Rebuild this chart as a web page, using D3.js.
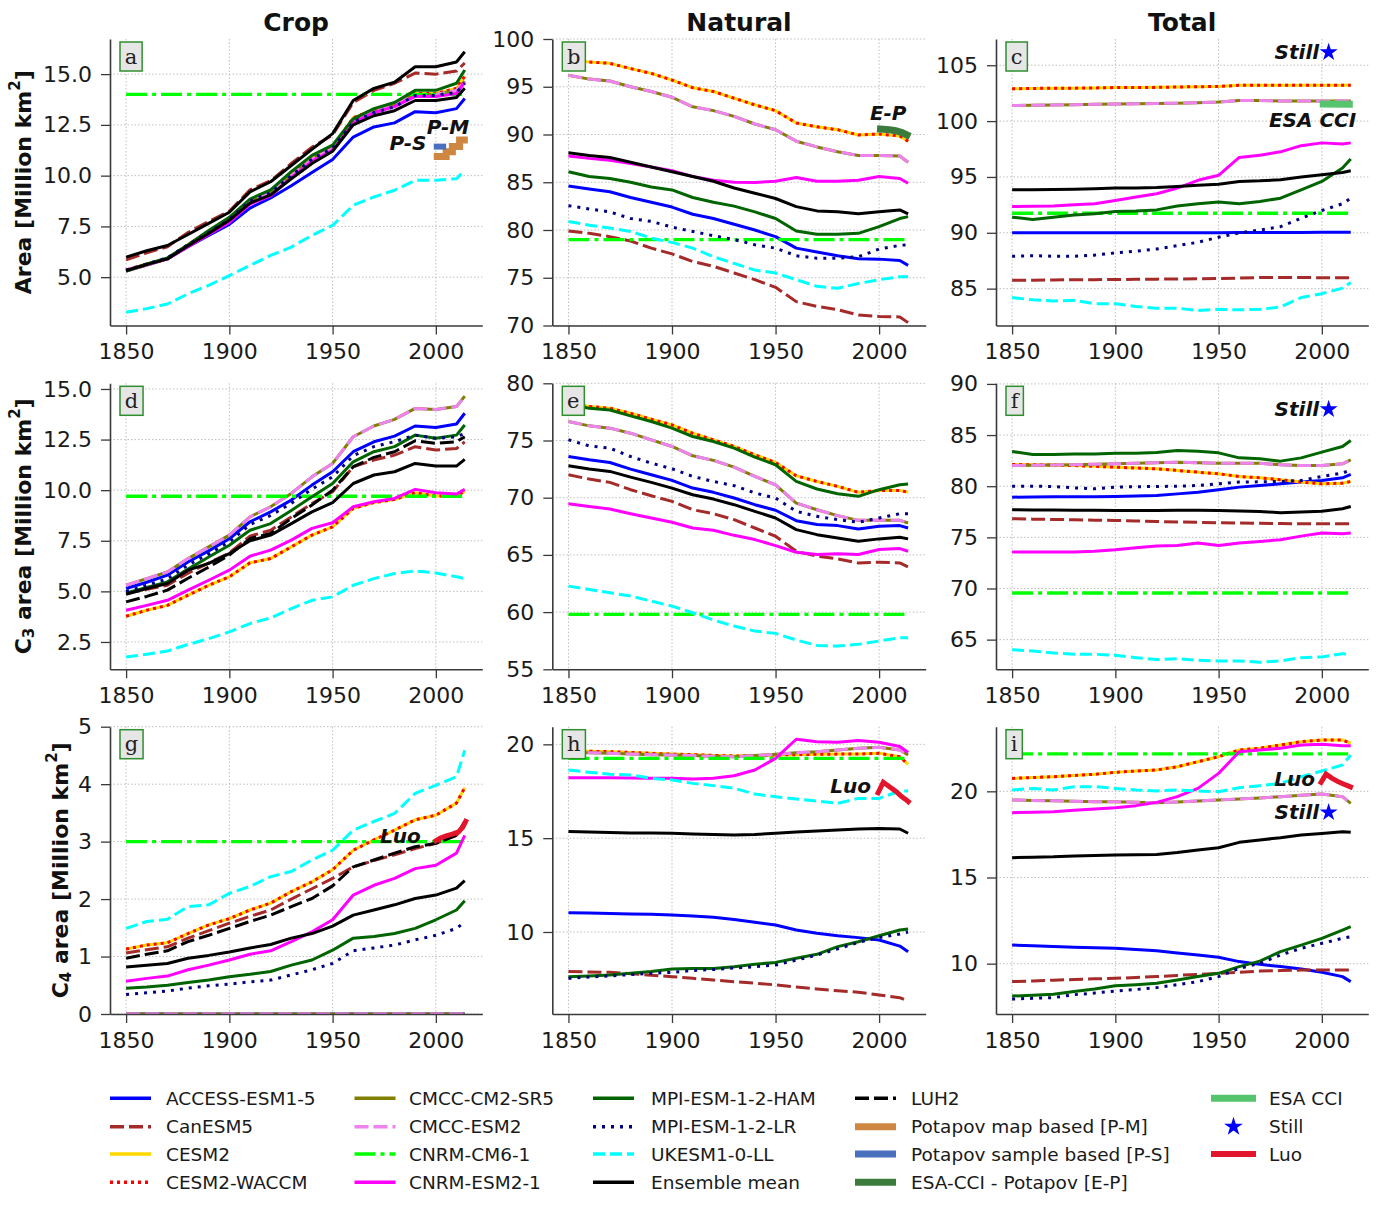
<!DOCTYPE html>
<html><head><meta charset="utf-8">
<script src="https://cdn.jsdelivr.net/npm/d3@7/dist/d3.min.js"></script>
<style>body{margin:0;background:#fff}svg{display:block}</style>
</head><body>
<svg id="chart" width="1379" height="1211" font-family="DejaVu Sans, sans-serif"></svg>
<script>
// ---------------- DATA ----------------
const years = [1850,1860,1870,1880,1890,1900,1910,1920,1930,1940,1950,1960,1970,1980,1990,2000,2010,2014];
const xTicks = [1850,1900,1950,2000];
const ticks_a = [5,7.5,10,12.5,15];
const ticks_b = [70,75,80,85,90,95,100];
const ticks_c = [85,90,95,100,105];
const ticks_d = [2.5,5,7.5,10,12.5,15];
const ticks_e = [55,60,65,70,75,80];
const ticks_f = [65,70,75,80,85,90];
const ticks_g = [0,1,2,3,4,5];
const ticks_h = [10,15,20];
const ticks_i = [10,15,20];
const columnTitles = ['Crop','Natural','Total'];

// (a) Crop area
const a_access = [5.3,5.6,5.9,6.5,7.05,7.6,8.4,8.9,9.5,10.15,10.8,11.9,12.4,12.6,13.15,13.1,13.3,13.8];
const a_can    = [5.85,6.2,6.5,7.2,7.75,8.25,9.3,9.75,10.6,11.4,12.0,13.6,14.2,14.55,15.05,15.0,15.15,15.55];
const a_cesm   = [5.35,5.65,5.9,6.6,7.25,7.9,8.8,9.2,10.05,10.85,11.4,12.85,13.25,13.55,14.05,14.05,14.3,14.9];
const a_cmcc   = [5.3,5.6,5.9,6.55,7.2,7.85,8.75,9.15,10.0,10.8,11.35,12.7,13.15,13.45,14.0,14.0,14.2,14.65];
const a_cm6    = [14,14,14,14,14,14,14,14,14,14,14,14,14,14,14,14,14,14];
const a_cnrm   = [5.35,5.62,5.9,6.5,7.1,7.7,8.6,9.0,9.9,10.7,11.25,12.6,13.1,13.4,13.9,13.9,14.05,14.6];
const a_ham    = [5.3,5.65,5.95,6.6,7.3,7.95,8.85,9.3,10.2,11.0,11.5,12.8,13.3,13.6,14.2,14.2,14.55,15.2];
const a_lr     = [5.35,5.65,5.95,6.6,7.2,7.85,8.75,9.15,10.0,10.8,11.35,12.65,13.1,13.4,13.95,13.95,14.1,14.55];
const a_uk     = [3.27,3.45,3.68,4.18,4.6,5.08,5.58,6.07,6.48,7.06,7.55,8.54,8.95,9.28,9.77,9.77,9.85,10.26];
const a_mean   = [5.33,5.62,5.9,6.55,7.15,7.8,8.65,9.05,9.85,10.6,11.2,12.5,12.95,13.2,13.7,13.7,13.85,14.3];
const a_luh    = [5.99,6.3,6.56,7.1,7.65,8.2,9.2,9.7,10.5,11.3,12.07,13.7,14.3,14.6,15.36,15.36,15.6,16.1];

// (b) Natural area
const b_access = [84.6,84.3,84.0,83.4,82.9,82.4,81.65,81.2,80.6,80.0,79.3,78.1,77.7,77.3,76.98,76.95,76.8,76.3];
const b_can    = [79.9,79.65,79.3,78.85,78.1,77.5,76.7,76.2,75.5,74.8,74.0,72.5,72.0,71.65,71.1,70.95,70.9,70.3];
const b_cesm   = [97.8,97.6,97.45,96.9,96.4,95.7,94.9,94.5,93.8,93.1,92.5,91.2,90.8,90.5,89.95,90.05,89.85,89.3];
const b_cmcc   = [96.2,95.8,95.6,95.0,94.5,93.9,92.9,92.5,91.9,91.1,90.5,89.3,88.7,88.2,87.8,87.8,87.75,87.1];
const b_cm6    = [79,79,79,79,79,79,79,79,79,79,79,79,79,79,79,79,79,79];
const b_cnrm   = [87.75,87.5,87.3,86.95,86.6,86.2,85.6,85.2,85.0,84.97,85.1,85.5,85.1,85.1,85.2,85.6,85.4,84.9];
const b_ham    = [86.1,85.6,85.4,85.0,84.5,84.2,83.4,82.9,82.5,81.9,81.2,79.9,79.55,79.55,79.65,80.35,81.2,81.4];
const b_lr     = [82.55,82.2,81.9,81.2,80.9,80.3,79.85,79.4,79.0,78.45,78.1,77.3,77.05,77.05,77.2,78.0,78.4,78.45];
const b_uk     = [80.9,80.5,80.2,79.85,79.15,78.7,78.1,77.2,76.5,75.8,75.5,74.8,74.1,73.9,74.4,74.8,75.1,75.1];
const b_mean   = [88.1,87.8,87.6,87.1,86.6,86.1,85.6,85.1,84.4,83.85,83.3,82.45,82.0,81.9,81.7,81.9,82.1,81.7];

// (c) Total area
const c_access = [90.0,90.0,90.0,90.0,90.0,90.0,90.0,90.0,90.0,90.0,90.0,90.02,90.02,90.03,90.03,90.05,90.05,90.05];
const c_can    = [85.75,85.75,85.78,85.8,85.8,85.82,85.83,85.85,85.87,85.88,85.9,85.95,86.0,86.0,86.0,85.98,85.98,85.98];
const c_cesm   = [102.9,102.92,102.95,102.95,102.97,103.0,103.0,103.02,103.05,103.08,103.1,103.2,103.2,103.2,103.2,103.2,103.2,103.2];
const c_cmcc   = [101.4,101.42,101.45,101.47,101.5,101.52,101.55,101.58,101.6,101.65,101.7,101.85,101.85,101.8,101.8,101.8,101.8,101.8];
const c_cm6    = [91.75,91.75,91.75,91.75,91.75,91.75,91.75,91.75,91.75,91.75,91.75,91.75,91.75,91.75,91.75,91.75,91.75,91.75];
const c_cnrm   = [92.35,92.38,92.4,92.5,92.6,92.9,93.2,93.5,94.0,94.7,95.15,96.75,96.95,97.25,97.8,98.05,97.95,98.05];
const c_ham    = [91.4,91.2,91.4,91.6,91.7,91.9,91.95,92.05,92.4,92.6,92.75,92.6,92.8,93.1,93.85,94.6,95.8,96.6];
const c_lr     = [87.9,87.95,87.9,87.9,88.0,88.2,88.35,88.55,88.85,89.15,89.6,90.0,90.25,90.55,91.3,92.0,92.6,93.1];
const c_uk     = [84.2,84.0,83.9,83.95,83.65,83.65,83.4,83.25,83.25,83.05,83.15,83.1,83.15,83.35,84.2,84.55,85.05,85.55];
const c_mean   = [93.85,93.85,93.87,93.9,93.95,94.0,94.0,94.05,94.15,94.25,94.35,94.6,94.65,94.75,95.0,95.2,95.4,95.55];

// (d) C3 crop
const d_access = [5.14,5.45,5.8,6.45,7.0,7.6,8.44,8.93,9.51,10.25,10.91,11.9,12.39,12.67,13.17,13.1,13.27,13.8];
const d_can    = [4.9,5.1,5.3,5.9,6.4,6.9,7.73,8.02,8.68,9.34,9.92,11.16,11.49,11.73,12.15,11.98,12.06,12.39];
const d_cesm   = [3.77,4.07,4.31,4.81,5.3,5.72,6.41,6.62,7.2,7.78,8.19,9.1,9.39,9.54,9.87,9.71,9.71,9.95];
const d_cmcc   = [5.3,5.63,5.96,6.62,7.2,7.78,8.68,9.18,9.84,10.66,11.32,12.64,13.17,13.5,14.04,13.99,14.13,14.65];
const d_cm6    = [9.7,9.7,9.7,9.7,9.7,9.7,9.7,9.7,9.7,9.7,9.7,9.7,9.7,9.7,9.7,9.7,9.7,9.7];
const d_cnrm   = [4.07,4.31,4.56,5.06,5.55,6.05,6.74,7.04,7.53,8.11,8.39,9.18,9.43,9.59,10.04,9.87,9.81,10.04];
const d_ham    = [4.92,5.2,5.47,6.1,6.7,7.28,8.02,8.35,9.0,9.67,10.33,11.4,11.9,12.15,12.72,12.56,12.72,13.22];
const d_lr     = [5.0,5.3,5.62,6.3,6.85,7.45,8.3,8.75,9.35,10.05,10.66,11.7,12.15,12.4,12.72,12.56,12.64,12.8];
const d_uk     = [1.76,1.89,2.05,2.38,2.66,3.0,3.41,3.69,4.15,4.56,4.73,5.3,5.63,5.88,6.01,5.91,5.72,5.63];
const d_mean   = [4.86,5.14,5.39,6.05,6.38,6.87,7.5,7.78,8.35,8.93,9.38,10.33,10.75,10.91,11.32,11.19,11.19,11.52];
const d_luh    = [4.48,4.75,5.06,5.65,6.2,6.79,7.61,7.86,8.6,9.27,10.0,11.16,11.62,11.9,12.44,12.31,12.39,12.64];

// (e) C3 natural
const e_access = [73.6,73.31,73.08,72.5,72.0,71.51,70.84,70.47,69.97,69.39,68.9,67.99,67.65,67.56,67.27,67.5,67.56,67.35];
const e_can    = [72.0,71.63,71.34,70.7,70.17,69.68,68.95,68.6,68.08,67.35,66.63,65.32,64.88,64.65,64.3,64.36,64.3,63.95];
const e_cesm   = [78.26,77.97,77.82,77.38,76.86,76.37,75.64,75.06,74.48,73.75,73.08,71.92,71.42,70.99,70.47,70.64,70.64,70.47];
const e_cmcc   = [76.66,76.28,76.08,75.64,75.06,74.48,73.66,73.26,72.67,71.86,71.13,69.53,68.95,68.43,68.02,68.02,68.02,67.79];
const e_cm6    = [59.8,59.8,59.8,59.8,59.8,59.8,59.8,59.8,59.8,59.8,59.8,59.8,59.8,59.8,59.8,59.8,59.8,59.8];
const e_cnrm   = [69.48,69.24,69.01,68.6,68.23,67.85,67.35,67.15,66.71,66.34,65.81,65.23,65.03,65.09,65.03,65.47,65.55,65.32];
const e_ham    = [78.17,77.82,77.67,77.15,76.66,76.08,75.35,74.91,74.33,73.55,72.88,71.42,70.76,70.35,70.12,70.7,71.13,71.19];
const e_lr     = [75.06,74.53,74.33,73.6,73.02,72.53,71.86,71.42,71.05,70.41,69.97,68.81,68.37,68.08,67.85,68.23,68.6,68.6];
const e_uk     = [62.27,61.98,61.69,61.4,60.96,60.52,59.94,59.3,58.78,58.34,58.14,57.56,57.09,57.03,57.18,57.47,57.76,57.76];
const e_mean   = [72.79,72.5,72.3,71.8,71.34,70.84,70.26,69.88,69.39,68.81,68.23,67.21,66.77,66.48,66.19,66.4,66.54,66.4];

// (f) C3 total
const f_access = [78.93,78.94,78.96,78.97,78.98,79.0,79.05,79.1,79.25,79.42,79.65,79.91,80.07,80.23,80.4,80.56,80.82,81.15];
const f_can    = [76.82,76.78,76.75,76.72,76.68,76.65,76.6,76.55,76.5,76.47,76.43,76.4,76.37,76.35,76.33,76.33,76.33,76.33];
const f_cesm   = [82.12,82.1,82.07,82.02,81.95,81.86,81.78,81.7,81.54,81.37,81.21,80.95,80.82,80.63,80.4,80.23,80.3,80.46];
const f_cmcc   = [82.02,82.05,82.08,82.1,82.15,82.19,82.25,82.3,82.35,82.3,82.25,82.25,82.25,82.09,82.02,82.02,82.19,82.58];
const f_cm6    = [69.56,69.56,69.56,69.56,69.56,69.56,69.56,69.56,69.56,69.56,69.56,69.56,69.56,69.56,69.56,69.56,69.56,69.56];
const f_cnrm   = [73.56,73.56,73.56,73.56,73.65,73.79,73.98,74.15,74.21,74.44,74.21,74.44,74.6,74.77,75.12,75.42,75.35,75.42];
const f_ham    = [83.39,83.1,83.1,83.16,83.16,83.23,83.23,83.29,83.49,83.42,83.26,82.77,82.68,82.45,82.77,83.33,83.88,84.47];
const f_lr     = [80.0,80.0,79.97,79.84,79.75,79.91,79.95,79.97,80.0,80.07,80.23,80.4,80.43,80.46,80.56,80.95,81.28,81.6];
const f_uk     = [64.02,63.89,63.7,63.57,63.57,63.47,63.24,63.05,63.14,62.98,62.92,62.92,62.79,62.92,63.24,63.31,63.63,63.47];
const f_mean   = [77.7,77.68,77.67,77.65,77.64,77.63,77.63,77.63,77.65,77.64,77.63,77.58,77.53,77.4,77.47,77.56,77.79,78.02];

// (g) C4 crop
const g_access = [0,0,0,0,0,0,0,0,0,0,0,0,0,0,0,0,0,0];
const g_can    = [1.06,1.12,1.17,1.32,1.45,1.58,1.7,1.81,2.0,2.18,2.36,2.56,2.67,2.77,2.88,2.97,3.11,3.29];
const g_cesm   = [1.13,1.2,1.24,1.4,1.55,1.66,1.81,1.93,2.13,2.3,2.51,2.85,3.03,3.2,3.38,3.46,3.67,3.94];
const g_cmcc   = [0,0,0,0,0,0,0,0,0,0,0,0,0,0,0,0,0,0];
const g_cm6    = [3,3,3,3,3,3,3,3,3,3,3,3,3,3,3,3,3,3];
const g_cnrm   = [0.57,0.62,0.66,0.77,0.85,0.94,1.04,1.1,1.26,1.43,1.64,2.07,2.24,2.36,2.53,2.59,2.8,3.11];
const g_ham    = [0.45,0.47,0.5,0.55,0.59,0.65,0.69,0.74,0.85,0.94,1.11,1.32,1.35,1.4,1.49,1.64,1.81,1.97];
const g_lr     = [0.34,0.37,0.4,0.45,0.49,0.52,0.56,0.59,0.68,0.77,0.88,1.1,1.15,1.2,1.29,1.37,1.49,1.6];
const g_uk     = [1.49,1.61,1.65,1.87,1.9,2.1,2.22,2.39,2.48,2.68,2.85,3.2,3.35,3.49,3.84,3.98,4.13,4.59];
const g_mean   = [0.82,0.85,0.88,0.97,1.02,1.08,1.15,1.21,1.32,1.4,1.53,1.72,1.81,1.9,2.01,2.07,2.19,2.32];
const g_luh    = [0.97,1.04,1.1,1.26,1.37,1.49,1.61,1.72,1.87,2.01,2.23,2.56,2.68,2.8,2.91,2.97,3.11,3.35];

// (h) C4 natural
const h_access = [11.03,11.01,10.98,10.96,10.94,10.91,10.85,10.78,10.66,10.52,10.37,10.11,9.93,9.8,9.7,9.57,9.25,8.95];
const h_can    = [7.89,7.87,7.85,7.78,7.7,7.62,7.53,7.44,7.35,7.27,7.18,7.07,6.96,6.87,6.79,6.64,6.5,6.32];
const h_cesm   = [19.66,19.63,19.61,19.57,19.52,19.48,19.45,19.41,19.38,19.4,19.43,19.45,19.47,19.48,19.48,19.52,19.34,18.93];
const h_cmcc   = [19.57,19.55,19.52,19.48,19.45,19.43,19.4,19.36,19.34,19.4,19.47,19.55,19.61,19.7,19.79,19.84,19.7,19.43];
const h_cm6    = [19.25,19.25,19.25,19.25,19.25,19.25,19.25,19.25,19.25,19.25,19.25,19.25,19.25,19.25,19.25,19.25,19.25,19.25];
const h_cnrm   = [18.22,18.22,18.22,18.2,18.19,18.19,18.15,18.19,18.33,18.63,19.25,20.27,20.14,20.11,20.2,20.11,19.88,19.57];
const h_ham    = [7.62,7.66,7.71,7.8,7.89,8.03,8.05,8.06,8.15,8.28,8.38,8.6,8.81,9.22,9.48,9.8,10.11,10.16];
const h_lr     = [7.53,7.6,7.66,7.73,7.8,7.85,7.95,8.0,8.08,8.15,8.24,8.5,8.77,9.1,9.45,9.7,9.89,10.0];
const h_uk     = [18.63,18.51,18.4,18.37,18.19,18.1,17.92,17.8,17.66,17.35,17.21,17.09,16.98,16.86,17.12,17.12,17.51,17.51];
const h_mean   = [15.35,15.33,15.3,15.28,15.27,15.26,15.22,15.19,15.17,15.2,15.26,15.33,15.38,15.44,15.49,15.52,15.49,15.26];

// (i) C4 total
const i_access = [11.08,11.04,11.0,10.96,10.93,10.89,10.82,10.75,10.62,10.5,10.37,10.12,9.96,9.83,9.69,9.5,9.25,8.96];
const i_can    = [8.96,9.0,9.04,9.08,9.12,9.15,9.2,9.25,9.32,9.38,9.44,9.5,9.57,9.6,9.63,9.63,9.63,9.63];
const i_cesm   = [20.75,20.8,20.85,20.92,20.99,21.1,21.18,21.24,21.43,21.72,22.01,22.4,22.5,22.69,22.88,22.98,22.98,22.79];
const i_cmcc   = [19.5,19.47,19.45,19.42,19.4,19.4,19.37,19.34,19.38,19.44,19.5,19.56,19.62,19.69,19.77,19.85,19.69,19.3];
const i_cm6    = [22.17,22.17,22.17,22.17,22.17,22.17,22.17,22.17,22.17,22.17,22.17,22.17,22.17,22.17,22.17,22.17,22.17,22.17];
const i_cnrm   = [18.76,18.79,18.82,18.9,18.97,19.05,19.17,19.36,19.69,20.17,21.04,22.3,22.4,22.5,22.69,22.73,22.65,22.65];
const i_ham    = [8.12,8.17,8.22,8.38,8.53,8.72,8.78,8.86,9.05,9.25,9.44,9.83,10.15,10.7,11.08,11.47,11.95,12.15];
const i_lr     = [7.95,7.99,8.03,8.2,8.3,8.41,8.5,8.61,8.78,8.96,9.25,9.73,10.02,10.5,10.89,11.18,11.47,11.57];
const i_uk     = [20.08,20.17,20.08,20.27,20.27,20.17,20.08,20.02,20.08,20.02,19.98,20.21,20.33,20.46,20.85,21.18,21.53,22.11];
const i_mean   = [16.15,16.18,16.2,16.25,16.28,16.31,16.32,16.34,16.45,16.6,16.73,17.04,17.18,17.31,17.47,17.56,17.66,17.62];

// Observations
const pm_years = [1999,2005,2008,2011.5,2015.5];
const pm_vals  = [10.94,11.18,11.43,11.76,11.76];
const ps_years = [1999,2005];
const ps_vals  = [11.43,11.43];
const ep_years = [1999,2002,2005,2008,2011,2013,2015];
const ep_vals  = [90.6,90.55,90.5,90.4,90.2,90.0,89.8];
const esa_years = [1999,2015];
const esa_vals  = [101.52,101.5];
const luo_years = [1999,2002,2005,2008,2011,2013,2015];
const luo_g = [2.99,3.06,3.1,3.13,3.17,3.25,3.39];
const luo_h = [17.3,17.98,17.74,17.5,17.2,17.05,16.86];
const luo_i = [20.4,21.0,20.75,20.55,20.4,20.3,20.2];
const still_year = 2003.3;
const still_c = 106.16, still_f = 87.52, still_i = 18.78;

// ---------------- STYLE / LAYOUT ----------------
const models = [
  {key:'access', name:'ACCESS-ESM1-5',   color:'#0000ff', dash:null},
  {key:'can',    name:'CanESM5',         color:'#a52a2a', dash:'14,5'},
  {key:'cesm',   name:'CESM2',           color:'#ffd700', dash:null},
  {key:'waccm',  name:'CESM2-WACCM',     color:'#ff0000', dash:'3,4'},
  {key:'sr5',    name:'CMCC-CM2-SR5',    color:'#808000', dash:null},
  {key:'cmcc',   name:'CMCC-ESM2',       color:'#ee82ee', dash:'14,5'},
  {key:'cm6',    name:'CNRM-CM6-1',      color:'#00ff00', dash:'21,5,4,5'},
  {key:'cnrm',   name:'CNRM-ESM2-1',     color:'#ff00ff', dash:null},
  {key:'ham',    name:'MPI-ESM-1-2-HAM', color:'#006400', dash:null},
  {key:'lr',     name:'MPI-ESM-1-2-LR',  color:'#000080', dash:'3,6'},
  {key:'uk',     name:'UKESM1-0-LL',     color:'#00ffff', dash:'12,5'},
  {key:'mean',   name:'Ensemble mean',   color:'#000000', dash:null},
  {key:'luh',    name:'LUH2',            color:'#000000', dash:'14,5'}
];
// per-panel line style overrides (the LUH2 curve in panel a is drawn solid)
const dashOverride = {a:{luh:null}};
const obsStyle = {
  pm:  {name:'Potapov map based [P-M]',    color:'#cd8740', width:7},
  ps:  {name:'Potapov sample based [P-S]', color:'#4a70bd', width:6},
  ep:  {name:'ESA-CCI - Potapov [E-P]',    color:'#3b7b3b', width:7},
  esa: {name:'ESA CCI',                    color:'#55c46c', width:7},
  still:{name:'Still',                     color:'#0000ff'},
  luo: {name:'Luo',                        color:'#e3152d', width:5}
};

const panelSeries = {
  a:{access:a_access,can:a_can,cesm:a_cesm,waccm:a_cesm,sr5:a_cmcc,cmcc:a_cmcc,cm6:a_cm6,cnrm:a_cnrm,ham:a_ham,lr:a_lr,uk:a_uk,mean:a_mean,luh:a_luh},
  b:{access:b_access,can:b_can,cesm:b_cesm,waccm:b_cesm,sr5:b_cmcc,cmcc:b_cmcc,cm6:b_cm6,cnrm:b_cnrm,ham:b_ham,lr:b_lr,uk:b_uk,mean:b_mean},
  c:{access:c_access,can:c_can,cesm:c_cesm,waccm:c_cesm,sr5:c_cmcc,cmcc:c_cmcc,cm6:c_cm6,cnrm:c_cnrm,ham:c_ham,lr:c_lr,uk:c_uk,mean:c_mean},
  d:{access:d_access,can:d_can,cesm:d_cesm,waccm:d_cesm,sr5:d_cmcc,cmcc:d_cmcc,cm6:d_cm6,cnrm:d_cnrm,ham:d_ham,lr:d_lr,uk:d_uk,mean:d_mean,luh:d_luh},
  e:{access:e_access,can:e_can,cesm:e_cesm,waccm:e_cesm,sr5:e_cmcc,cmcc:e_cmcc,cm6:e_cm6,cnrm:e_cnrm,ham:e_ham,lr:e_lr,uk:e_uk,mean:e_mean},
  f:{access:f_access,can:f_can,cesm:f_cesm,waccm:f_cesm,sr5:f_cmcc,cmcc:f_cmcc,cm6:f_cm6,cnrm:f_cnrm,ham:f_ham,lr:f_lr,uk:f_uk,mean:f_mean},
  g:{access:g_access,can:g_can,cesm:g_cesm,waccm:g_cesm,sr5:g_cmcc,cmcc:g_cmcc,cm6:g_cm6,cnrm:g_cnrm,ham:g_ham,lr:g_lr,uk:g_uk,mean:g_mean,luh:g_luh},
  h:{access:h_access,can:h_can,cesm:h_cesm,waccm:h_cesm,sr5:h_cmcc,cmcc:h_cmcc,cm6:h_cm6,cnrm:h_cnrm,ham:h_ham,lr:h_lr,uk:h_uk,mean:h_mean},
  i:{access:i_access,can:i_can,cesm:i_cesm,waccm:i_cesm,sr5:i_cmcc,cmcc:i_cmcc,cm6:i_cm6,cnrm:i_cnrm,ham:i_ham,lr:i_lr,uk:i_uk,mean:i_mean}
};
const panelObs = {
  a:[{k:'pm',x:pm_years,y:pm_vals,step:true},{k:'ps',x:ps_years,y:ps_vals}],
  b:[{k:'ep',x:ep_years,y:ep_vals}],
  c:[{k:'esa',x:esa_years,y:esa_vals}],
  g:[{k:'luo',x:luo_years,y:luo_g}],
  h:[{k:'luo',x:luo_years,y:luo_h}],
  i:[{k:'luo',x:luo_years,y:luo_i}]
};
const panelStars = {c:still_c, f:still_f, i:still_i};
const panelLabels = {
  a:[['P-M',2005.9,12.40],['P-S',1986.5,11.61]],
  b:[['E-P',2004.4,92.27]],
  c:[['ESA CCI',1995.5,100.14]],
  g:[['Luo',1982.8,3.09]],
  h:[['Luo',1986.3,17.76]],
  i:[['Luo',1986.8,20.73]]
};

const cols = [[110,482.3],[552.3,925.7],[996,1368.3]];
const rows = [[39,325.5],[383.3,669.3],[726.7,1014]];
const xDomain = [1842.2,2022.5];
const panels = [
  {id:'a',r:0,c:0,dom:[2.62,16.73],ticks:ticks_a,fmt:'.1f'},
  {id:'b',r:0,c:1,dom:[70,100],ticks:ticks_b,fmt:'d'},
  {id:'c',r:0,c:2,dom:[81.7,107.35],ticks:ticks_c,fmt:'d'},
  {id:'d',r:1,c:0,dom:[1.15,15.28],ticks:ticks_d,fmt:'.1f'},
  {id:'e',r:1,c:1,dom:[55,80],ticks:ticks_e,fmt:'d'},
  {id:'f',r:1,c:2,dom:[62.1,90.06],ticks:ticks_f,fmt:'d'},
  {id:'g',r:2,c:0,dom:[0,5],ticks:ticks_g,fmt:'d'},
  {id:'h',r:2,c:1,dom:[5.63,20.94],ticks:ticks_h,fmt:'d'},
  {id:'i',r:2,c:2,dom:[7.08,23.75],ticks:ticks_i,fmt:'d'}
];

// ---------------- DRAW ----------------
const svg = d3.select('#chart');
svg.append('rect').attr('width',1379).attr('height',1211).attr('fill','#fff');
const defs = svg.append('defs');
const AX = '#3a3a3a';
const SANS = 'DejaVu Sans, sans-serif';

panels.forEach(p => {
  const [x0,x1] = cols[p.c], [y0,y1] = rows[p.r];
  const x = d3.scaleLinear().domain(xDomain).range([x0,x1]);
  const y = d3.scaleLinear().domain(p.dom).range([y1,y0]);
  const g = svg.append('g');
  defs.append('clipPath').attr('id','clip-'+p.id).append('rect')
    .attr('x',x0).attr('y',y0).attr('width',x1-x0).attr('height',y1-y0);

  // grid
  const grid = g.append('g').attr('stroke','#b8b8b8').attr('stroke-width',0.9).attr('stroke-dasharray','1.5,2');
  grid.selectAll('.gx').data(xTicks).join('line').attr('x1',d=>x(d)).attr('x2',d=>x(d)).attr('y1',y0).attr('y2',y1);
  grid.selectAll('.gy').data(p.ticks).join('line').attr('y1',d=>y(d)).attr('y2',d=>y(d)).attr('x1',x0).attr('x2',x1);

  const lg = g.append('g').attr('clip-path',`url(#clip-${p.id})`);
  const line = d3.line().x(d=>x(d[0])).y(d=>y(d[1]));
  const ser = panelSeries[p.id];
  const ov = dashOverride[p.id] || {};
  models.forEach(m => {
    const v = ser[m.key]; if (!v) return;
    const dash = (m.key in ov) ? ov[m.key] : m.dash;
    lg.append('path').attr('d', line(years.map((yr,i)=>[yr,v[i]])))
      .attr('fill','none').attr('stroke',m.color).attr('stroke-width',m.key==='cm6'?3.3:3)
      .attr('stroke-dasharray',dash).attr('stroke-linejoin','round');
  });
  (panelObs[p.id]||[]).forEach(o => {
    const st = obsStyle[o.k];
    const ln = d3.line().x(d=>x(d[0])).y(d=>y(d[1])).curve(o.step?d3.curveStepAfter:d3.curveLinear);
    g.append('path').attr('d', ln(o.x.map((xx,i)=>[xx,o.y[i]])))
      .attr('fill','none').attr('stroke',st.color).attr('stroke-width',st.width).attr('stroke-linejoin','miter');
  });

  // axes
  const ya = d3.axisLeft(y).tickValues(p.ticks).tickSize(9).tickPadding(9).tickSizeOuter(0).tickFormat(d3.format(p.fmt));
  const xa = d3.axisBottom(x).tickValues(xTicks).tickSize(9).tickPadding(9).tickSizeOuter(0).tickFormat(d3.format('d'));
  const gy = g.append('g').attr('transform',`translate(${x0},0)`).call(ya);
  const gx = g.append('g').attr('transform',`translate(0,${y1})`).call(xa);
  [gx,gy].forEach(a => {
    a.attr('font-family',SANS);
    a.select('.domain').attr('stroke',AX).attr('stroke-width',1.6);
    a.selectAll('.tick line').attr('stroke',AX).attr('stroke-width',1.3);
    a.selectAll('.tick text').attr('font-size',22).attr('fill','#1a1a1a');
  });

  // stars
  if (panelStars[p.id] !== undefined) {
    const sx = x(still_year), sy = y(panelStars[p.id]);
    g.append('path').attr('d', d3.symbol(d3.symbolStar).size(100)())
      .attr('transform',`translate(${sx},${sy})`).attr('fill',obsStyle.still.color);
    g.append('text').attr('x',sx-9.5).attr('y',sy).attr('text-anchor','end').attr('dominant-baseline','central')
      .attr('font-size',20).attr('font-weight','bold').attr('font-style','italic').attr('fill','#111').text('Still');
  }
  (panelLabels[p.id]||[]).forEach(l => {
    g.append('text').attr('x',x(l[1])).attr('y',y(l[2])).attr('text-anchor','middle').attr('dominant-baseline','central')
      .attr('font-size',20).attr('font-weight','bold').attr('font-style','italic').attr('fill','#111').text(l[0]);
  });

  // panel letter
  const lt = g.append('text').attr('x',x0+10+4.8).attr('y',y0+3+14.5).attr('dominant-baseline','central')
    .style('font-family','"DejaVu Serif", "Liberation Serif", serif').attr('font-size',21).attr('fill','#222').text(p.id);
  const tw = lt.node().getComputedTextLength();
  g.insert('rect', () => lt.node()).attr('x',x0+10).attr('y',y0+3).attr('width',tw+9.6).attr('height',29)
    .attr('fill','#e6e6e6').attr('stroke','#2f8f2f').attr('stroke-width',1.5);
});

// column titles
columnTitles.forEach((t,i) => {
  svg.append('text').attr('x',(cols[i][0]+cols[i][1])/2).attr('y',31).attr('text-anchor','middle')
    .attr('font-size',25).attr('font-weight','bold').attr('fill','#111').text(t);
});

// y labels
function yLabel(cx, cy, sub) {
  const t = svg.append('text').attr('transform',`translate(${cx},${cy}) rotate(-90)`).attr('text-anchor','middle')
    .attr('dominant-baseline','central').attr('font-size',22).attr('font-weight','bold').attr('fill','#111');
  if (sub) {
    t.append('tspan').text('C');
    t.append('tspan').attr('font-size',15).attr('dy',6).text(sub);
    t.append('tspan').attr('dy',-6).text(' area [Million km');
  } else {
    t.append('tspan').text('Area [Million km');
  }
  t.append('tspan').attr('font-size',15).attr('dy',-8).text('2');
  t.append('tspan').attr('dy',8).text(']');
}
yLabel(23, (rows[0][0]+rows[0][1])/2, null);
yLabel(23, (rows[1][0]+rows[1][1])/2, '3');
yLabel(60, (rows[2][0]+rows[2][1])/2, '4');

// legend
const legCols = [
  {hx:[110,151], tx:166, items:['access','can','cesm','waccm']},
  {hx:[354.5,395.5], tx:409, items:['sr5','cmcc','cm6','cnrm']},
  {hx:[593,634], tx:651, items:['ham','lr','uk','mean']},
  {hx:[855,896], tx:911, items:['luh','pm','ps','ep']},
  {hx:[1211,1256], tx:1269, items:['esa','still','luo']}
];
const legRows = [1098.3,1126.7,1154,1182.3];
const lgd = svg.append('g');
legCols.forEach(col => {
  col.items.forEach((k,ri) => {
    const yy = legRows[ri];
    const m = models.find(mm => mm.key === k);
    let name;
    if (m) {
      name = m.name;
      lgd.append('line').attr('x1',col.hx[0]).attr('x2',col.hx[1]).attr('y1',yy).attr('y2',yy)
        .attr('stroke',m.color).attr('stroke-width',3.5).attr('stroke-dasharray',m.dash);
    } else {
      const st = obsStyle[k]; name = st.name;
      if (k === 'still') {
        lgd.append('path').attr('d', d3.symbol(d3.symbolStar).size(110)())
          .attr('transform',`translate(${(col.hx[0]+col.hx[1])/2},${yy})`).attr('fill',st.color);
      } else {
        lgd.append('line').attr('x1',col.hx[0]).attr('x2',col.hx[1]).attr('y1',yy).attr('y2',yy)
          .attr('stroke',st.color).attr('stroke-width',k==='luo'?6:7);
      }
    }
    lgd.append('text').attr('x',col.tx).attr('y',yy).attr('dominant-baseline','central')
      .attr('font-size',18.5).attr('fill','#1a1a1a').text(name);
  });
});
</script>
</body></html>
